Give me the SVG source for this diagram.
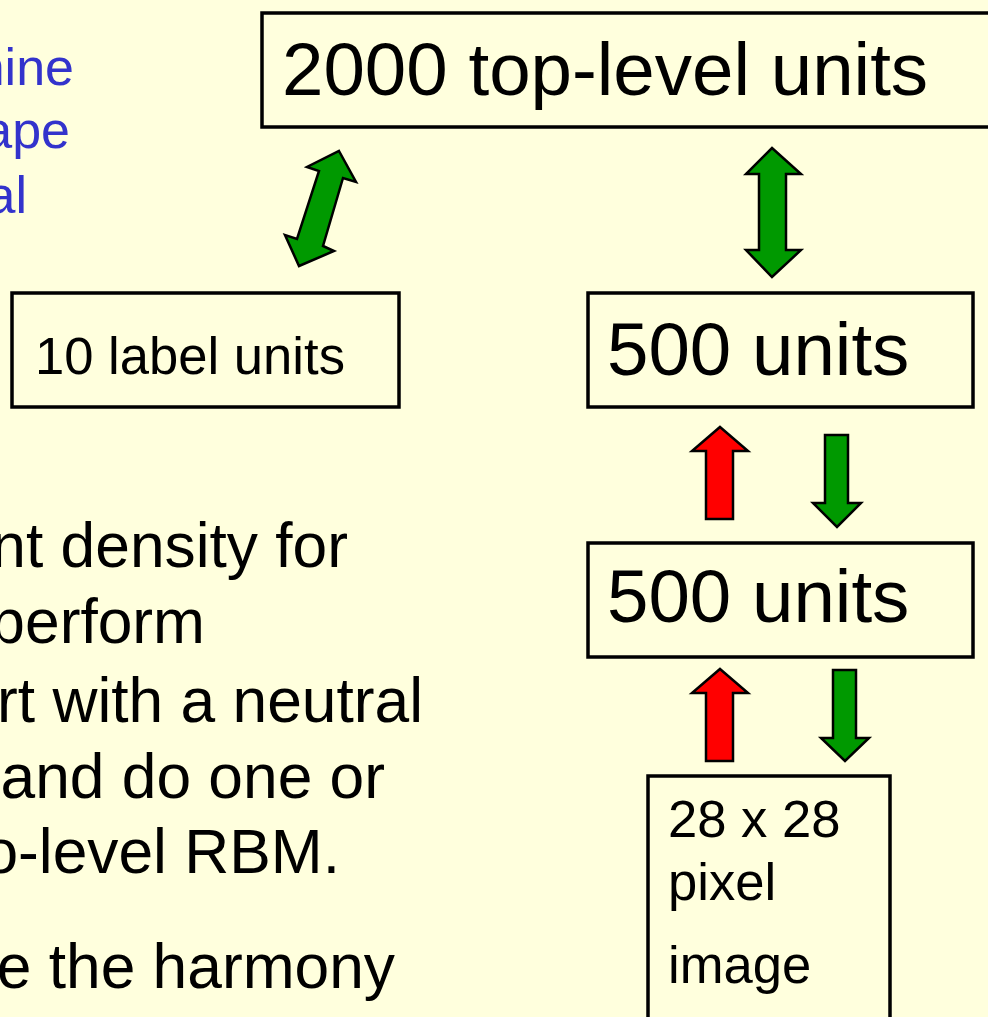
<svg xmlns="http://www.w3.org/2000/svg" width="988" height="1017" viewBox="0 0 988 1017">
  <style>
    .bg { fill: #FFFFDD; }
    .box { fill: #FFFFDD; stroke: #000; stroke-width: 3.5; }
    .big { font-family: "Liberation Sans", Arial, sans-serif; font-size: 74.5px; fill: #000; }
    .mid { font-family: "Liberation Sans", Arial, sans-serif; font-size: 52.6px; fill: #000; }
    .body { font-family: "Liberation Sans", Arial, sans-serif; font-size: 62.3px; fill: #000; text-anchor: end; }
    .blue { font-family: "Liberation Sans", Arial, sans-serif; font-size: 52px; fill: #3333CC; text-anchor: end; }
    .up { fill: #FF0000; stroke: #000; stroke-width: 2.5; stroke-linejoin: miter; }
    .down { fill: #009900; stroke: #000; stroke-width: 2.5; stroke-linejoin: miter; }
  </style>

  <rect class="bg" x="0" y="0" width="988" height="1017"/>

  <!-- body text, clipped by the left edge -->
  <g id="blue-text">
    <text class="blue" x="74" y="85">nine</text>
    <text class="blue" x="70" y="148">ape</text>
    <text class="blue" x="27" y="213">al</text>
  </g>
  <g id="body-text">
    <text class="body" x="348" y="567">nt density for</text>
    <text class="body" x="205" y="643">perform</text>
    <text class="body" x="423" y="722">rt with a neutral</text>
    <text class="body" x="385" y="798">and do one or</text>
    <text class="body" x="340" y="873">o-level RBM.</text>
    <text class="body" x="395" y="988">e the harmony</text>
  </g>

  <!-- layers -->
  <g id="top-units">
    <rect class="box" x="262" y="13" width="740" height="114"/>
    <text class="big" x="282" y="95">2000 top-level units</text>
  </g>
  <g id="label-units">
    <rect class="box" x="12" y="293" width="387" height="114"/>
    <text class="mid" x="35" y="374">10 label units</text>
  </g>
  <g id="hidden-2">
    <rect class="box" x="588" y="293" width="385" height="114"/>
    <text class="big" x="607" y="375">500 units</text>
  </g>
  <g id="hidden-1">
    <rect class="box" x="588" y="543" width="385" height="114"/>
    <text class="big" x="607" y="622">500 units</text>
  </g>
  <g id="pixels">
    <rect class="box" x="648" y="776" width="242" height="260"/>
    <text class="mid" x="668" y="837">28 x 28</text>
    <text class="mid" x="668" y="900">pixel</text>
    <text class="mid" x="668" y="983">image</text>
  </g>

  <!-- connectors -->
  <g id="connectors">
    <!-- label units <-> top-level units -->
    <polygon class="down" points="339,151 356,182 343,178 323,246 334,251 299,266 285,235 297,239 319,171 307,167"/>
    <!-- hidden-2 <-> top-level units -->
    <polygon class="down" points="772,148 801,174 786,174 786,250 801,250 772,277 746,250 759,250 759,174 746,174"/>
    <!-- hidden-1 <-> hidden-2 -->
    <polygon class="up" points="720,427 748,451 733,451 733,519 706,519 706,451 692,451"/>
    <polygon class="down" points="825,435 848,435 848,503 861,503 837,527 813,503 825,503"/>
    <!-- pixels <-> hidden-1 -->
    <polygon class="up" points="720,669 748,693 733,693 733,761 706,761 706,693 692,693"/>
    <polygon class="down" points="833,670 856,670 856,738 869,738 845,761 821,738 833,738"/>
  </g>
</svg>
